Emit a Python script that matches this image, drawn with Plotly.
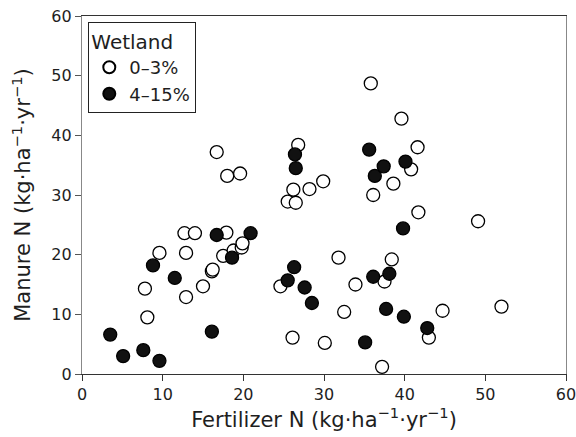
import plotly.graph_objects as go

# Wetland 0–3% (open circles)
open_x = [7.8, 8.1, 9.6, 12.7, 12.9, 12.9, 14.0, 15.0, 16.1, 16.2, 16.7, 17.5, 17.9, 18.0,
          18.8, 19.6, 19.8, 19.9, 24.6, 25.5, 26.1, 26.2, 26.5, 26.8, 28.2, 29.9, 30.1, 31.8,
          32.5, 33.9, 35.8, 36.1, 37.2, 37.5, 38.4, 38.6, 39.6, 40.8, 41.6, 41.7, 43.0, 44.7,
          49.1, 52.0]
open_y = [14.3, 9.5, 20.3, 23.6, 20.3, 12.9, 23.6, 14.7, 17.2, 17.5, 37.2, 19.8, 23.7, 33.2,
          20.7, 33.6, 21.2, 21.9, 14.7, 28.9, 6.1, 30.9, 28.7, 38.4, 31.0, 32.3, 5.2, 19.5,
          10.4, 15.0, 48.7, 30.0, 1.2, 15.5, 19.2, 31.9, 42.8, 34.3, 38.0, 27.1, 6.1, 10.6,
          25.6, 11.3]

# Wetland 4–15% (filled circles)
fill_x = [3.5, 5.1, 7.6, 8.8, 9.6, 11.5, 16.1, 16.7, 18.6, 20.9, 25.5, 26.3, 26.4, 26.5,
          27.6, 28.5, 35.1, 35.6, 36.1, 36.3, 37.4, 37.7, 38.1, 39.8, 39.9, 40.1, 42.8]
fill_y = [6.6, 3.0, 4.0, 18.2, 2.2, 16.1, 7.1, 23.3, 19.5, 23.6, 15.7, 17.9, 36.8, 34.5,
          14.5, 11.9, 5.3, 37.6, 16.3, 33.2, 34.8, 10.9, 16.8, 24.4, 9.6, 35.6, 7.7]

x_ticks = [0, 10, 20, 30, 40, 50, 60]
y_ticks = [0, 10, 20, 30, 40, 50, 60]

FONT = "DejaVu Sans, sans-serif"
INK = "#1e1e1e"

fig = go.Figure()
fig.add_trace(go.Scatter(
    x=open_x, y=open_y, mode="markers", name="0–3%",
    marker=dict(symbol="circle", size=13, color="white",
                line=dict(color="black", width=1.3)),
))
fig.add_trace(go.Scatter(
    x=fill_x, y=fill_y, mode="markers", name="4–15%",
    marker=dict(symbol="circle", size=13, color="#111111",
                line=dict(color="black", width=1.3)),
))

fig.update_layout(
    width=576, height=437,
    margin=dict(l=82, r=10, t=16, b=63),
    paper_bgcolor="white", plot_bgcolor="white",
    font=dict(family=FONT, color=INK),
    showlegend=True,
    legend=dict(
        title=dict(text="Wetland", font=dict(size=20, family=FONT, color=INK)),
        x=0.013, y=0.983, xanchor="left", yanchor="top",
        bordercolor="#222", borderwidth=1, bgcolor="white",
        font=dict(size=18, family=FONT, color=INK),
        itemsizing="constant", tracegroupgap=0,
    ),
    xaxis=dict(
        range=[0, 60], tickvals=x_ticks, ticktext=[str(v) for v in x_ticks],
        showgrid=False, zeroline=False, automargin=False,
        ticklabeloverflow="allow",
        showline=True, linecolor="#333", linewidth=1.2, mirror=True,
        ticks="outside", ticklen=6, tickcolor="#333",
        tickfont=dict(size=16, family=FONT, color=INK),
        title=dict(text="Fertilizer N (kg·ha<sup>−1</sup>·yr<sup>−1</sup>)",
                   font=dict(size=21, family=FONT, color=INK), standoff=4),
    ),
    yaxis=dict(
        range=[0, 60], tickvals=y_ticks, ticktext=[str(v) for v in y_ticks],
        showgrid=False, zeroline=False, automargin=False,
        ticklabeloverflow="allow",
        showline=True, linecolor="#888", linewidth=1.2, mirror=True,
        ticks="outside", ticklen=6, tickcolor="#555",
        tickfont=dict(size=16, family=FONT, color=INK),
        title=dict(text="Manure N (kg·ha<sup>−1</sup>·yr<sup>−1</sup>)",
                   font=dict(size=21, family=FONT, color=INK), standoff=14),
    ),
)

fig.write_html(
    "out.html",
    config={"displayModeBar": False},
    post_script="document.body.style.margin='0';document.body.style.overflow='hidden';",
)
